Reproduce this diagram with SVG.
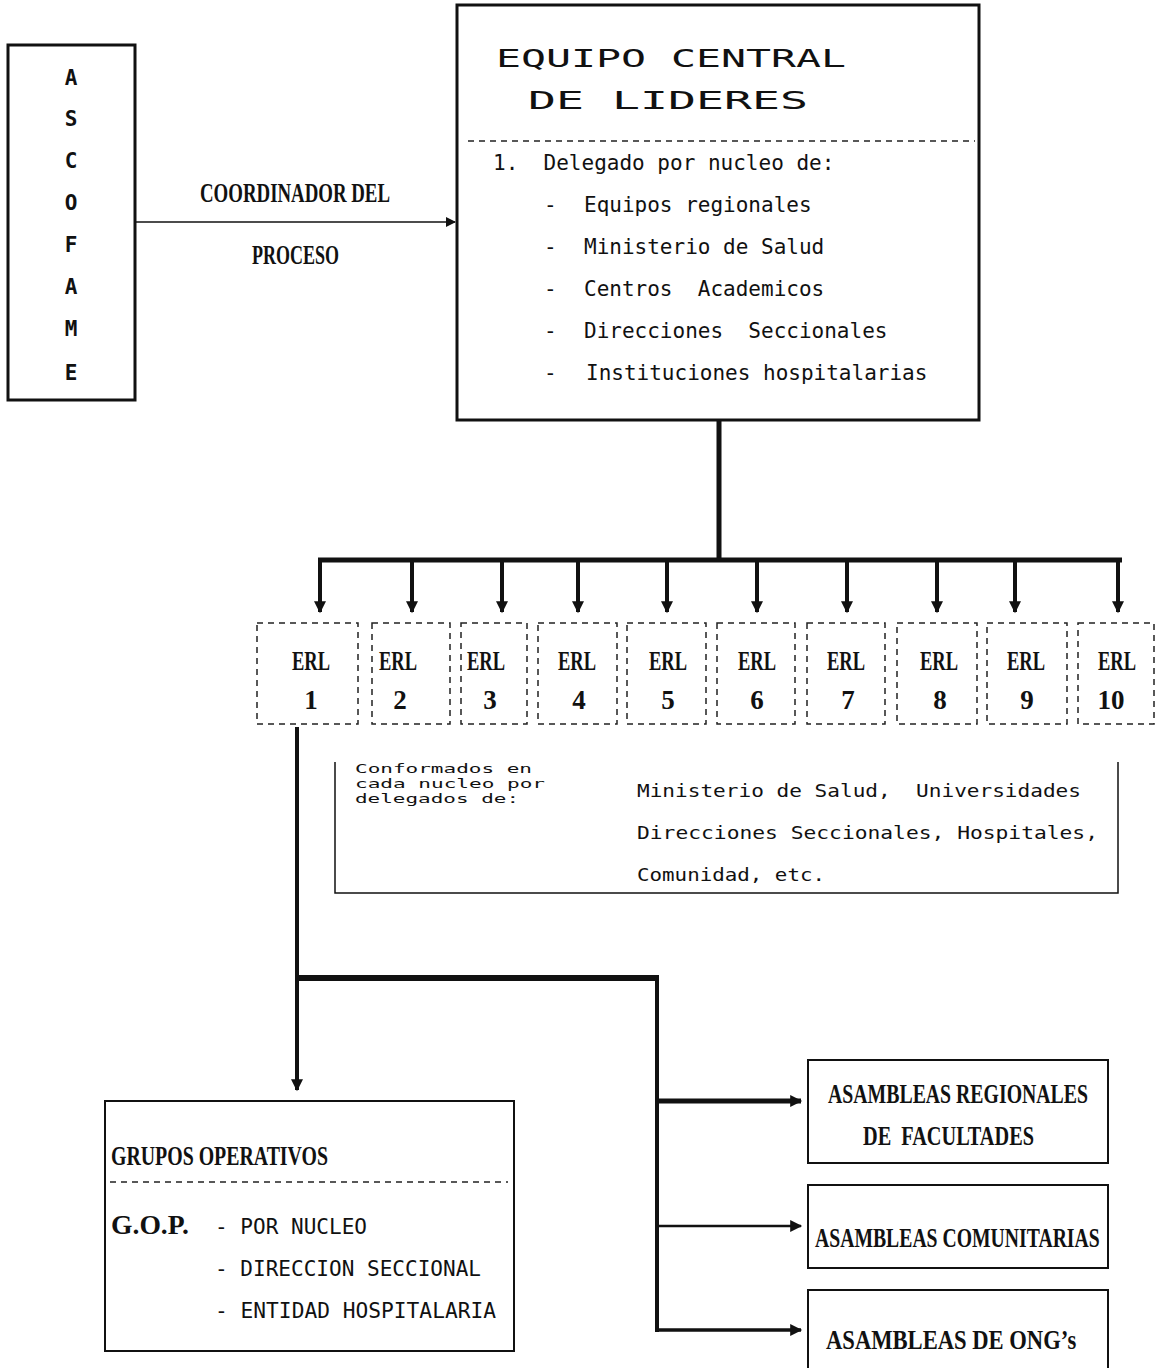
<svg xmlns="http://www.w3.org/2000/svg" width="1157" height="1368" viewBox="0 0 1157 1368">
<defs>
<style>
.box{fill:#fff;stroke:#111;}
.mono{font-family:'DejaVu Sans Mono','Liberation Mono',monospace;font-size:21px;fill:#111;}
.title{font-family:'DejaVu Sans Mono','Liberation Mono',monospace;font-size:24px;fill:#111;}
.small{font-family:'DejaVu Sans Mono','Liberation Mono',monospace;font-size:13px;fill:#111;}
.med{font-family:'DejaVu Sans Mono','Liberation Mono',monospace;font-size:17px;fill:#111;}
.cond{font-family:'Liberation Serif','DejaVu Serif',serif;font-weight:bold;fill:#111;}
.bold{font-family:'DejaVu Sans Mono','Liberation Mono',monospace;font-weight:bold;font-size:21px;fill:#111;}
.erl{fill:none;stroke:#222;stroke-width:1.5;stroke-dasharray:6 5;}
.line{fill:none;stroke:#111;}
.dash{fill:none;stroke:#222;stroke-width:1.5;stroke-dasharray:6 5;}
</style>
<marker id="ah" viewBox="0 0 10 10" refX="9" refY="5" markerWidth="14" markerHeight="12" markerUnits="userSpaceOnUse" orient="auto">
<path d="M0,0 L10,5 L0,10 z" fill="#111"/>
</marker>
<marker id="ahs" viewBox="0 0 10 10" refX="9" refY="5" markerWidth="12" markerHeight="10" markerUnits="userSpaceOnUse" orient="auto">
<path d="M0,0 L10,5 L0,10 z" fill="#111"/>
</marker>
</defs>
<rect width="1157" height="1368" fill="#fff"/>

<g id="connectors">
<line class="line" x1="135" y1="222" x2="455" y2="222" stroke-width="1.5" marker-end="url(#ahs)"/>
<line class="line" x1="719" y1="420" x2="719" y2="562" stroke-width="5"/>
<line class="line" x1="318" y1="560" x2="1122" y2="560" stroke-width="5"/>
<line class="line" x1="320" y1="558" x2="320" y2="612" stroke-width="4" marker-end="url(#ah)"/>
<line class="line" x1="412" y1="558" x2="412" y2="612" stroke-width="4" marker-end="url(#ah)"/>
<line class="line" x1="502" y1="558" x2="502" y2="612" stroke-width="4" marker-end="url(#ah)"/>
<line class="line" x1="578" y1="558" x2="578" y2="612" stroke-width="4" marker-end="url(#ah)"/>
<line class="line" x1="667" y1="558" x2="667" y2="612" stroke-width="4" marker-end="url(#ah)"/>
<line class="line" x1="757" y1="558" x2="757" y2="612" stroke-width="4" marker-end="url(#ah)"/>
<line class="line" x1="847" y1="558" x2="847" y2="612" stroke-width="4" marker-end="url(#ah)"/>
<line class="line" x1="937" y1="558" x2="937" y2="612" stroke-width="4" marker-end="url(#ah)"/>
<line class="line" x1="1015" y1="558" x2="1015" y2="612" stroke-width="4" marker-end="url(#ah)"/>
<line class="line" x1="1118" y1="558" x2="1118" y2="612" stroke-width="4" marker-end="url(#ah)"/>
<line class="line" x1="297" y1="727" x2="297" y2="1090" stroke-width="4" marker-end="url(#ah)"/>
<line class="line" x1="295" y1="978" x2="659" y2="978" stroke-width="6"/>
<line class="line" x1="657" y1="976" x2="657" y2="1332" stroke-width="4"/>
<line class="line" x1="657" y1="1101" x2="801" y2="1101" stroke-width="5" marker-end="url(#ah)"/>
<line class="line" x1="657" y1="1226" x2="801" y2="1226" stroke-width="2.5" marker-end="url(#ah)"/>
<line class="line" x1="655" y1="1330" x2="801" y2="1330" stroke-width="3.5" marker-end="url(#ah)"/>
</g>

<g id="ascofame">
<rect class="box" x="8" y="45" width="127" height="355" stroke-width="3"/>
<g class="bold" text-anchor="middle">
<text x="71" y="85">A</text>
<text x="71" y="126">S</text>
<text x="71" y="168">C</text>
<text x="71" y="210">O</text>
<text x="71" y="252">F</text>
<text x="71" y="294">A</text>
<text x="71" y="336">M</text>
<text x="71" y="380">E</text>
</g>
</g>

<g id="coordinador-label">
<text class="cond" x="200" y="202" font-size="28" textLength="190" lengthAdjust="spacingAndGlyphs">COORDINADOR DEL</text>
<text class="cond" x="252" y="264" font-size="28" textLength="87" lengthAdjust="spacingAndGlyphs">PROCESO</text>
</g>

<g id="equipo-central">
<rect class="box" x="457" y="5" width="522" height="415" stroke-width="3"/>
<text class="title" x="496" y="67" textLength="350" lengthAdjust="spacingAndGlyphs">EQUIPO CENTRAL</text>
<text class="title" x="528" y="109" textLength="280" lengthAdjust="spacingAndGlyphs">DE LIDERES</text>
<line class="dash" x1="468" y1="141" x2="975" y2="141"/>
<text class="mono" x="493" y="170" xml:space="preserve">1.  Delegado por nucleo de:</text>
<text class="mono" x="544" y="212">-</text><text class="mono" x="584" y="212">Equipos regionales</text>
<text class="mono" x="544" y="254">-</text><text class="mono" x="584" y="254">Ministerio de Salud</text>
<text class="mono" x="544" y="296">-</text><text class="mono" x="584" y="296" xml:space="preserve">Centros  Academicos</text>
<text class="mono" x="544" y="338">-</text><text class="mono" x="584" y="338" xml:space="preserve">Direcciones  Seccionales</text>
<text class="mono" x="544" y="380">-</text><text class="mono" x="586" y="380">Instituciones hospitalarias</text>
</g>

<g id="erl-1"><rect class="erl" x="257" y="623" width="101" height="101"/><text class="cond" x="311" y="670" font-size="28" text-anchor="middle" textLength="38" lengthAdjust="spacingAndGlyphs">ERL</text><text class="cond" x="311" y="709" font-size="27" text-anchor="middle">1</text></g>
<g id="erl-2"><rect class="erl" x="372" y="623" width="78" height="101"/><text class="cond" x="398" y="670" font-size="28" text-anchor="middle" textLength="38" lengthAdjust="spacingAndGlyphs">ERL</text><text class="cond" x="400" y="709" font-size="27" text-anchor="middle">2</text></g>
<g id="erl-3"><rect class="erl" x="461" y="623" width="66" height="101"/><text class="cond" x="486" y="670" font-size="28" text-anchor="middle" textLength="38" lengthAdjust="spacingAndGlyphs">ERL</text><text class="cond" x="490" y="709" font-size="27" text-anchor="middle">3</text></g>
<g id="erl-4"><rect class="erl" x="538" y="623" width="79" height="101"/><text class="cond" x="577" y="670" font-size="28" text-anchor="middle" textLength="38" lengthAdjust="spacingAndGlyphs">ERL</text><text class="cond" x="579" y="709" font-size="27" text-anchor="middle">4</text></g>
<g id="erl-5"><rect class="erl" x="627" y="623" width="79" height="101"/><text class="cond" x="668" y="670" font-size="28" text-anchor="middle" textLength="38" lengthAdjust="spacingAndGlyphs">ERL</text><text class="cond" x="668" y="709" font-size="27" text-anchor="middle">5</text></g>
<g id="erl-6"><rect class="erl" x="717" y="623" width="78" height="101"/><text class="cond" x="757" y="670" font-size="28" text-anchor="middle" textLength="38" lengthAdjust="spacingAndGlyphs">ERL</text><text class="cond" x="757" y="709" font-size="27" text-anchor="middle">6</text></g>
<g id="erl-7"><rect class="erl" x="807" y="623" width="78" height="101"/><text class="cond" x="846" y="670" font-size="28" text-anchor="middle" textLength="38" lengthAdjust="spacingAndGlyphs">ERL</text><text class="cond" x="848" y="709" font-size="27" text-anchor="middle">7</text></g>
<g id="erl-8"><rect class="erl" x="897" y="623" width="80" height="101"/><text class="cond" x="939" y="670" font-size="28" text-anchor="middle" textLength="38" lengthAdjust="spacingAndGlyphs">ERL</text><text class="cond" x="940" y="709" font-size="27" text-anchor="middle">8</text></g>
<g id="erl-9"><rect class="erl" x="987" y="623" width="80" height="101"/><text class="cond" x="1026" y="670" font-size="28" text-anchor="middle" textLength="38" lengthAdjust="spacingAndGlyphs">ERL</text><text class="cond" x="1027" y="709" font-size="27" text-anchor="middle">9</text></g>
<g id="erl-10"><rect class="erl" x="1078" y="623" width="76" height="101"/><text class="cond" x="1117" y="670" font-size="28" text-anchor="middle" textLength="38" lengthAdjust="spacingAndGlyphs">ERL</text><text class="cond" x="1111" y="709" font-size="27" text-anchor="middle">10</text></g>

<g id="conformados">
<path class="line" d="M335,762 V893 H1118 V762" stroke-width="1.5"/>
<text class="small" x="355" y="773" textLength="177" lengthAdjust="spacingAndGlyphs">Conformados en</text>
<text class="small" x="355" y="788" textLength="190" lengthAdjust="spacingAndGlyphs">cada nucleo por</text>
<text class="small" x="355" y="803" textLength="164" lengthAdjust="spacingAndGlyphs">delegados de:</text>
<text class="med" x="637" y="797" textLength="444" lengthAdjust="spacingAndGlyphs" xml:space="preserve">Ministerio de Salud,  Universidades</text>
<text class="med" x="637" y="839" textLength="461" lengthAdjust="spacingAndGlyphs">Direcciones Seccionales, Hospitales,</text>
<text class="med" x="637" y="881" textLength="188" lengthAdjust="spacingAndGlyphs">Comunidad, etc.</text>
</g>

<g id="grupos-operativos">
<rect class="box" x="105" y="1101" width="409" height="250" stroke-width="2"/>
<text class="cond" x="111" y="1165" font-size="28" textLength="217" lengthAdjust="spacingAndGlyphs">GRUPOS OPERATIVOS</text>
<line class="dash" x1="110" y1="1182" x2="508" y2="1182"/>
<text class="cond" x="111" y="1234" font-size="28" textLength="78" lengthAdjust="spacingAndGlyphs">G.O.P.</text>
<text class="mono" x="215" y="1234" textLength="152" lengthAdjust="spacingAndGlyphs">- POR NUCLEO</text>
<text class="mono" x="215" y="1276" textLength="266" lengthAdjust="spacingAndGlyphs">- DIRECCION SECCIONAL</text>
<text class="mono" x="215" y="1318" textLength="281" lengthAdjust="spacingAndGlyphs">- ENTIDAD HOSPITALARIA</text>
</g>

<g id="asambleas-regionales">
<rect class="box" x="808" y="1060" width="300" height="103" stroke-width="2"/>
<text class="cond" transform="translate(828,1103) scale(0.65,1)" font-size="28" textLength="400" lengthAdjust="spacingAndGlyphs">ASAMBLEAS REGIONALES</text>
<text class="cond" transform="translate(863,1145) scale(0.65,1)" font-size="28" textLength="263" lengthAdjust="spacingAndGlyphs" xml:space="preserve">DE  FACULTADES</text>
</g>
<g id="asambleas-comunitarias">
<rect class="box" x="808" y="1185" width="300" height="83" stroke-width="2"/>
<text class="cond" transform="translate(815,1247) scale(0.65,1)" font-size="28" textLength="438" lengthAdjust="spacingAndGlyphs">ASAMBLEAS COMUNITARIAS</text>
</g>
<g id="asambleas-ong">
<rect class="box" x="808" y="1290" width="300" height="90" stroke-width="2"/>
<text class="cond" transform="translate(826,1349) scale(0.65,1)" font-size="28" textLength="385" lengthAdjust="spacingAndGlyphs">ASAMBLEAS DE ONG’s</text>
</g>
</svg>
